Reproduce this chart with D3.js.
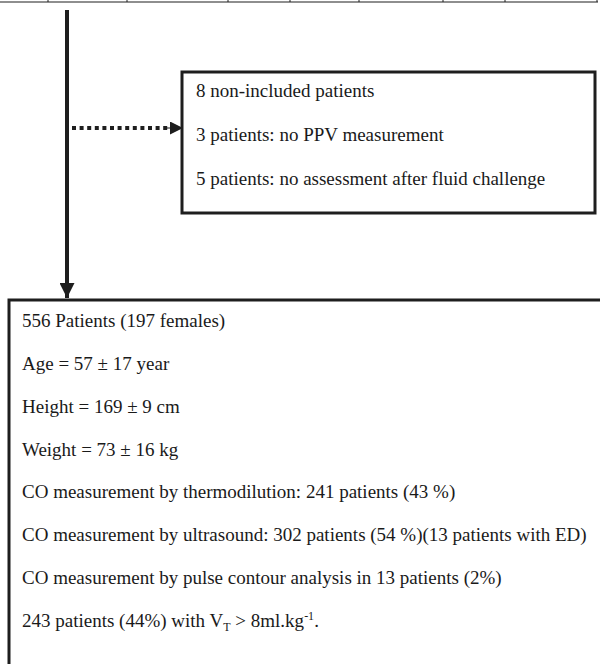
<!DOCTYPE html>
<html>
<head>
<meta charset="utf-8">
<script src="https://cdn.jsdelivr.net/npm/d3@7"></script>
<style>
  html, body { margin: 0; padding: 0; background: #fff; }
  svg { display: block; }
  text { font-family: "Liberation Serif", "Times New Roman", serif; fill: #1a1a1a; }
</style>
</head>
<body>
<svg id="chart"></svg>
<script>
(function () {
  // Remains of the table above the flowchart (column rule positions)
  const tableRules = [48, 127, 228, 290, 359, 443, 505, 597];

  const excludedLines = [
    '8 non-included patients',
    '3 patients: no PPV measurement',
    '5 patients: no assessment after fluid challenge'
  ];

  // Each line is a list of [text, style] runs; style: '' normal, 'sub', 'sup'
  const cohortLines = [
    [['556 Patients (197 females)', '']],
    [['Age = 57 \u00b1 17 year', '']],
    [['Height = 169 \u00b1 9 cm', '']],
    [['Weight = 73 \u00b1 16 kg', '']],
    [['CO measurement by thermodilution: 241 patients (43 %)', '']],
    [['CO measurement by ultrasound: 302 patients (54 %)(13 patients with ED)', '']],
    [['CO measurement by pulse contour analysis in 13 patients (2%)', '']],
    [['243 patients (44%) with V', ''], ['T', 'sub'], [' > 8ml.kg', ''], ['-1', 'sup'], ['.', '']]
  ];

  const W = 600, H = 664;
  const ink = '#1e1e1e';
  const fs = 19;

  const svg = d3.select('#chart').attr('width', W).attr('height', H);

  // Table remnant at the very top
  svg.append('line')
    .attr('x1', 0).attr('x2', 598).attr('y1', 2).attr('y2', 2)
    .attr('stroke', ink).attr('stroke-width', 1.2);
  svg.append('g').selectAll('line')
    .data(tableRules)
    .join('line')
    .attr('x1', d => d).attr('x2', d => d)
    .attr('y1', 0).attr('y2', 2)
    .attr('stroke', ink).attr('stroke-width', 1);

  const defs = svg.append('defs');
  defs.append('marker')
    .attr('id', 'head')
    .attr('viewBox', '0 -5 10 10')
    .attr('refX', 10).attr('refY', 0)
    .attr('markerUnits', 'userSpaceOnUse')
    .attr('markerWidth', 15).attr('markerHeight', 15)
    .attr('orient', 'auto')
    .append('path')
    .attr('d', 'M0,-5L10,0L0,5Z')
    .attr('fill', ink);
  defs.append('marker')
    .attr('id', 'headSmall')
    .attr('viewBox', '0 -5 10 10')
    .attr('refX', 10).attr('refY', 0)
    .attr('markerUnits', 'userSpaceOnUse')
    .attr('markerWidth', 15).attr('markerHeight', 13)
    .attr('orient', 'auto')
    .append('path')
    .attr('d', 'M0,-5L10,0L0,5Z')
    .attr('fill', ink);

  // Main downward arrow
  svg.append('line')
    .attr('x1', 67).attr('x2', 67)
    .attr('y1', 10).attr('y2', 298)
    .attr('stroke', ink).attr('stroke-width', 4)
    .attr('marker-end', 'url(#head)');

  // Dotted side arrow to the exclusion box
  svg.append('line')
    .attr('x1', 72).attr('x2', 168)
    .attr('y1', 128).attr('y2', 128)
    .attr('stroke', ink).attr('stroke-width', 4)
    .attr('stroke-dasharray', '4,3.6');
  svg.append('line')
    .attr('x1', 166).attr('x2', 183)
    .attr('y1', 128).attr('y2', 128)
    .attr('stroke', ink).attr('stroke-width', 1)
    .attr('marker-end', 'url(#headSmall)');

  // Exclusion box
  const ex = { x: 182, y: 72, w: 413, h: 141 };
  svg.append('rect')
    .attr('x', ex.x).attr('y', ex.y).attr('width', ex.w).attr('height', ex.h)
    .attr('fill', 'none').attr('stroke', ink).attr('stroke-width', 3);

  const exY = d3.scalePoint().domain(d3.range(excludedLines.length)).range([97, 185]);
  svg.append('g').selectAll('text')
    .data(excludedLines)
    .join('text')
    .attr('x', 196)
    .attr('y', (d, i) => exY(i))
    .attr('font-size', fs)
    .text(d => d);

  // Cohort box (runs off the right and bottom edges)
  svg.append('rect')
    .attr('x', 9).attr('y', 300).attr('width', 620).attr('height', 400)
    .attr('fill', 'none').attr('stroke', ink).attr('stroke-width', 3);

  const coY = d3.scalePoint().domain(d3.range(cohortLines.length)).range([327, 627]);
  const rows = svg.append('g').selectAll('text')
    .data(cohortLines)
    .join('text')
    .attr('x', 22)
    .attr('y', (d, i) => coY(i))
    .attr('font-size', fs);

  rows.selectAll('tspan')
    .data(d => d.map((r, i) => ({ text: r[0], style: r[1], prev: i > 0 ? d[i - 1][1] : '' })))
    .join('tspan')
    .attr('font-size', d => d.style ? 12 : fs)
    .attr('dy', d => {
      // undo the previous run's shift, then apply this run's
      let shift = 0;
      if (d.prev === 'sub') shift -= 4;
      if (d.prev === 'sup') shift += 7;
      if (d.style === 'sub') shift += 4;
      if (d.style === 'sup') shift -= 7;
      return shift;
    })
    .text(d => d.text);
})();
</script>
</body>
</html>
